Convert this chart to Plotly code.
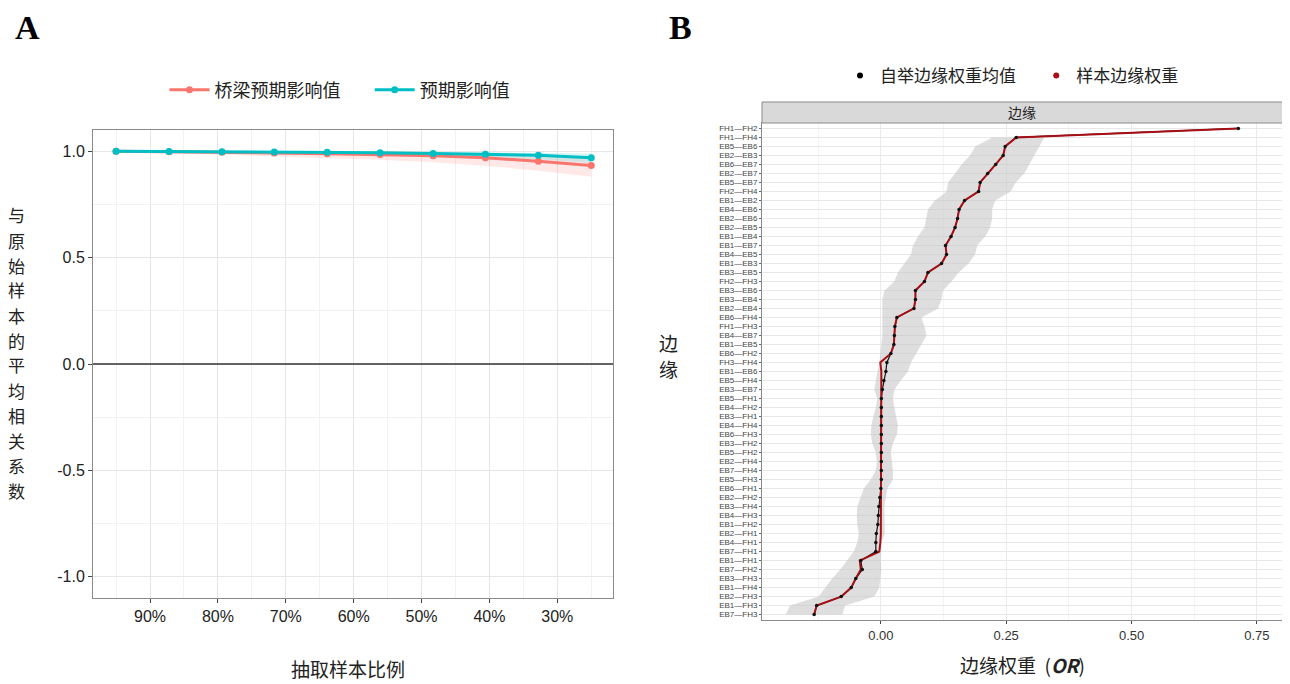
import plotly.graph_objects as go

# ---------------- Panel A data ----------------
sampled = [0.950, 0.872, 0.794, 0.717, 0.639, 0.561, 0.483, 0.406, 0.328, 0.250]
bridge_mean = [1.000, 0.998, 0.995, 0.992, 0.988, 0.985, 0.979, 0.969, 0.953, 0.933]
bridge_lo = [0.996, 0.990, 0.984, 0.977, 0.969, 0.960, 0.948, 0.932, 0.908, 0.880]
bridge_hi = [1.000, 1.000, 0.999, 0.998, 0.997, 0.995, 0.993, 0.990, 0.985, 0.975]
expect_mean = [1.000, 0.999, 0.998, 0.996, 0.995, 0.993, 0.990, 0.986, 0.981, 0.970]
expect_lo = [0.998, 0.996, 0.993, 0.990, 0.987, 0.983, 0.978, 0.971, 0.962, 0.945]
expect_hi = [1.000, 1.000, 1.000, 0.999, 0.999, 0.998, 0.997, 0.996, 0.994, 0.990]
x_tick_vals = [0.9, 0.8, 0.7, 0.6, 0.5, 0.4, 0.3]
x_tick_text = ["90%", "80%", "70%", "60%", "50%", "40%", "30%"]
y_tick_vals = [1.0, 0.5, 0.0, -0.5, -1.0]
y_tick_text = ["1.0", "0.5", "0.0", "-0.5", "-1.0"]
y_title_a = "与原始样本的平均相关系数"

# ---------------- Panel B data ----------------
edges = ["FH1—FH2", "FH1—FH4", "EB5—EB6", "EB2—EB3", "EB6—EB7", "EB2—EB7", "EB5—EB7",
         "FH2—FH4", "EB1—EB2", "EB4—EB6", "EB2—EB6", "EB2—EB5", "EB1—EB4", "EB1—EB7",
         "EB4—EB5", "EB1—EB3", "EB3—EB5", "FH2—FH3", "EB3—EB6", "EB3—EB4", "EB2—EB4",
         "EB6—FH4", "FH1—FH3", "EB4—EB7", "EB1—EB5", "EB6—FH2", "FH3—FH4", "EB1—EB6",
         "EB5—FH4", "EB3—EB7", "EB5—FH1", "EB4—FH2", "EB3—FH1", "EB4—FH4", "EB6—FH3",
         "EB3—FH2", "EB5—FH2", "EB2—FH4", "EB7—FH4", "EB5—FH3", "EB6—FH1", "EB2—FH2",
         "EB3—FH4", "EB4—FH3", "EB1—FH2", "EB2—FH1", "EB4—FH1", "EB7—FH1", "EB1—FH1",
         "EB7—FH2", "EB3—FH3", "EB1—FH4", "EB2—FH3", "EB1—FH3", "EB7—FH3"]
sample_w = [0.713, 0.270, 0.248, 0.244, 0.229, 0.213, 0.198, 0.195, 0.167, 0.156,
            0.153, 0.148, 0.140, 0.129, 0.131, 0.121, 0.094, 0.087, 0.069, 0.069,
            0.066, 0.032, 0.028, 0.027, 0.026, 0.020, -0.001, 0.001, 0.001, 0.001,
            0.001, 0.001, 0.001, 0.001, 0.001, 0.001, 0.001, 0.001, 0.001, 0.001,
            0.000, 0.000, 0.000, 0.000, 0.000, 0.000, -0.001, -0.003, -0.042, -0.040,
            -0.050, -0.059, -0.079, -0.128, -0.133]
boot_mean = [0.713, 0.270, 0.248, 0.244, 0.229, 0.213, 0.198, 0.195, 0.167, 0.156,
             0.153, 0.148, 0.140, 0.129, 0.131, 0.121, 0.094, 0.087, 0.069, 0.069,
             0.066, 0.032, 0.028, 0.027, 0.026, 0.020, 0.012, 0.010, 0.006, 0.003,
             0.001, 0.001, 0.001, 0.001, 0.001, 0.001, 0.001, 0.001, 0.001, 0.001,
             0.000, -0.002, -0.004, -0.005, -0.006, -0.009, -0.010, -0.010, -0.040, -0.037,
             -0.050, -0.059, -0.079, -0.128, -0.133]
ci_lo = [None, 0.222, 0.188, 0.178, 0.161, 0.148, 0.134, 0.131, 0.108, 0.094,
         0.091, 0.087, 0.074, 0.064, 0.060, 0.047, 0.034, 0.027, 0.007, 0.003,
         0.003, 0.003, 0.003, 0.003, 0.001, -0.001, -0.003, -0.007, -0.010, -0.013,
         -0.007, -0.010, -0.015, -0.019, -0.020, -0.017, -0.010, -0.008, -0.010, -0.020,
         -0.034, -0.040, -0.047, -0.048, -0.047, -0.044, -0.047, -0.054, -0.067, -0.081,
         -0.097, -0.111, -0.124, -0.181, -0.190]
ci_hi = [None, 0.326, 0.316, 0.306, 0.296, 0.286, 0.269, 0.259, 0.228, 0.222,
         0.222, 0.218, 0.208, 0.192, 0.188, 0.175, 0.155, 0.141, 0.124, 0.121,
         0.114, 0.081, 0.087, 0.091, 0.081, 0.071, 0.060, 0.054, 0.040, 0.027,
         0.024, 0.027, 0.030, 0.034, 0.032, 0.024, 0.020, 0.022, 0.024, 0.024,
         0.013, 0.010, 0.007, 0.008, 0.008, 0.008, 0.001, 0.001, 0.000, 0.001,
         -0.001, -0.003, -0.013, -0.071, -0.077]
b_tick_vals = [0.0, 0.25, 0.5, 0.75]
b_tick_text = ["0.00", "0.25", "0.50", "0.75"]
y_title_b = "边缘"

W, H = 1290, 684
OFF = 8  # page body margin offset
def px(x):
    return (x - OFF) / W
def py(y):
    return 1 - (y - OFF) / H

CJK = "Noto Sans CJK SC"
SANS = "Liberation Sans, Arial"
SALMON = "#F8766D"
TEAL = "#00BFC4"
DARKRED = "#A50F15"

fig = go.Figure()

# ---- Panel A ribbons and lines ----
fig.add_trace(go.Scatter(x=sampled + sampled[::-1], y=bridge_hi + bridge_lo[::-1],
                         fill="toself", fillcolor="rgba(248,118,109,0.16)",
                         line=dict(width=0), hoverinfo="skip", showlegend=False,
                         xaxis="x", yaxis="y"))
fig.add_trace(go.Scatter(x=sampled + sampled[::-1], y=expect_hi + expect_lo[::-1],
                         fill="toself", fillcolor="rgba(0,191,196,0.16)",
                         line=dict(width=0), hoverinfo="skip", showlegend=False,
                         xaxis="x", yaxis="y"))
fig.add_trace(go.Scatter(x=sampled, y=bridge_mean, mode="lines+markers",
                         name="桥梁预期影响值&nbsp;&nbsp;&nbsp;&nbsp;&nbsp;&nbsp;",
                         line=dict(color=SALMON, width=3),
                         marker=dict(color=SALMON, size=7), xaxis="x", yaxis="y",
                         legend="legend"))
fig.add_trace(go.Scatter(x=sampled, y=expect_mean, mode="lines+markers",
                         name="预期影响值", line=dict(color=TEAL, width=3),
                         marker=dict(color=TEAL, size=7), xaxis="x", yaxis="y",
                         legend="legend"))

# ---- Panel B ----
rib_y = [e for e, v in zip(edges, ci_lo) if v is not None]
rib_lo = [v for v in ci_lo if v is not None]
rib_hi = [v for v in ci_hi if v is not None]
fig.add_trace(go.Scatter(x=rib_lo + rib_hi[::-1], y=rib_y + rib_y[::-1],
                         fill="toself", fillcolor="rgba(195,195,195,0.55)",
                         line=dict(width=0), hoverinfo="skip", showlegend=False,
                         xaxis="x2", yaxis="y2"))
fig.add_trace(go.Scatter(x=boot_mean, y=edges, mode="lines",
                         line=dict(color="#111111", width=1.2), showlegend=False,
                         xaxis="x2", yaxis="y2"))
fig.add_trace(go.Scatter(x=sample_w, y=edges, mode="lines",
                         line=dict(color=DARKRED, width=2), showlegend=False,
                         xaxis="x2", yaxis="y2"))
fig.add_trace(go.Scatter(x=boot_mean, y=edges, mode="markers",
                         marker=dict(color="#111111", size=3.5), showlegend=False,
                         xaxis="x2", yaxis="y2"))
# legend entries for panel B
fig.add_trace(go.Scatter(x=[None], y=[None], mode="markers",
                         name="自举边缘权重均值&nbsp;&nbsp;&nbsp;&nbsp;",
                         marker=dict(color="black", size=6), xaxis="x2", yaxis="y2",
                         legend="legend2"))
fig.add_trace(go.Scatter(x=[None], y=[None], mode="markers", name="样本边缘权重",
                         marker=dict(color=DARKRED, size=6), xaxis="x2", yaxis="y2",
                         legend="legend2"))

grid_major = "#E6E6E6"
grid_minor = "#F2F2F2"
border = "#8A8A8A"

fig.update_layout(
    width=W, height=H,
    margin=dict(l=0, r=0, t=0, b=0),
    paper_bgcolor="white", plot_bgcolor="white",
    font=dict(family=CJK, color="#222222"),
    xaxis=dict(domain=[px(93), px(613)], range=[0.984, 0.218],
               tickvals=x_tick_vals, ticktext=x_tick_text,
               tickfont=dict(family=SANS, size=16, color="#222"),
               ticks="outside", ticklen=4, tickcolor="#444",
               showgrid=True, gridcolor=grid_major, gridwidth=1,
               minor=dict(tickvals=[0.95, 0.85, 0.75, 0.65, 0.55, 0.45, 0.35, 0.25],
                          showgrid=True, gridcolor=grid_minor, gridwidth=1),
               zeroline=False, showline=True, linecolor=border, mirror=True,
               anchor="y"),
    yaxis=dict(domain=[py(598), py(130)], range=[-1.1, 1.1],
               tickvals=y_tick_vals, ticktext=y_tick_text,
               tickfont=dict(family=SANS, size=16, color="#222"),
               ticks="outside", ticklen=4, tickcolor="#444",
               showgrid=True, gridcolor=grid_major, gridwidth=1,
               minor=dict(tickvals=[0.75, 0.25, -0.25, -0.75],
                          showgrid=True, gridcolor=grid_minor, gridwidth=1),
               zeroline=False, showline=True, linecolor=border, mirror=True,
               anchor="x"),
    xaxis2=dict(domain=[px(762), px(1283)], range=[-0.237, 0.802],
                tickvals=b_tick_vals, ticktext=b_tick_text,
                tickfont=dict(family=SANS, size=13, color="#333"),
                ticks="outside", ticklen=3, tickcolor="#444",
                showgrid=True, gridcolor="#EBEBEB", gridwidth=1,
                minor=dict(tickvals=[-0.125, 0.125, 0.375, 0.625],
                           showgrid=True, gridcolor="#F4F4F4", gridwidth=1),
                zeroline=False, showline=True, linecolor=border, mirror=True,
                anchor="y2"),
    yaxis2=dict(domain=[py(620), py(123)], type="category",
                categoryorder="array", categoryarray=edges,
                range=[54.6, -0.6],
                tickmode="array", tickvals=edges, ticktext=edges,
                tickfont=dict(family=SANS, size=8, color="#444"),
                ticks="outside", ticklen=2, tickcolor="#666",
                showgrid=True, gridcolor="#E8E8E8", gridwidth=1,
                zeroline=False, showline=True, linecolor=border, mirror=True,
                anchor="x2"),
    legend=dict(orientation="h", x=px(340), y=py(90), xanchor="center", yanchor="middle",
                font=dict(family=CJK, size=18, color="#222"), itemwidth=40,
                bgcolor="rgba(0,0,0,0)"),
    legend2=dict(orientation="h", x=px(1012), y=py(76), xanchor="center", yanchor="middle",
                 font=dict(family=CJK, size=17, color="#222"), itemwidth=30,
                 bgcolor="rgba(0,0,0,0)"),
    showlegend=True,
)

# zero line in panel A
fig.add_shape(type="line", xref="x domain", yref="y", x0=0, x1=1, y0=0, y1=0,
              line=dict(color="#333333", width=1.5))

# strip header panel B
fig.add_shape(type="rect", xref="paper", yref="paper",
              x0=px(762), x1=px(1283), y0=py(123), y1=py(102),
              fillcolor="#D9D9D9", line=dict(color=border, width=1))

ann = [
    dict(text="<b>A</b>", x=px(27), y=py(28), font=dict(family="Liberation Serif", size=34, color="black")),
    dict(text="<b>B</b>", x=px(680), y=py(28), font=dict(family="Liberation Serif", size=34, color="black")),
    dict(text="边缘", x=px(1022), y=py(112), font=dict(family=CJK, size=14, color="#222")),
    dict(text="抽取样本比例", x=px(348), y=py(668), font=dict(family=CJK, size=19, color="#222")),
    dict(text="边缘权重  (<b><i>OR</i></b>)", x=px(1022), y=py(664),
         font=dict(family=CJK, size=19, color="#222")),
]
# vertical stacked titles, one character per annotation
for i, ch in enumerate(y_title_a):
    ann.append(dict(text=ch, x=px(16), y=py(215 + i * 25),
                    font=dict(family=CJK, size=17, color="#222")))
for i, ch in enumerate(y_title_b):
    ann.append(dict(text=ch, x=px(668), y=py(343 + i * 25),
                    font=dict(family=CJK, size=19, color="#222")))
for a in ann:
    fig.add_annotation(xref="paper", yref="paper", showarrow=False,
                       xanchor="center", yanchor="middle", **a)

fig.write_html("out.html")
